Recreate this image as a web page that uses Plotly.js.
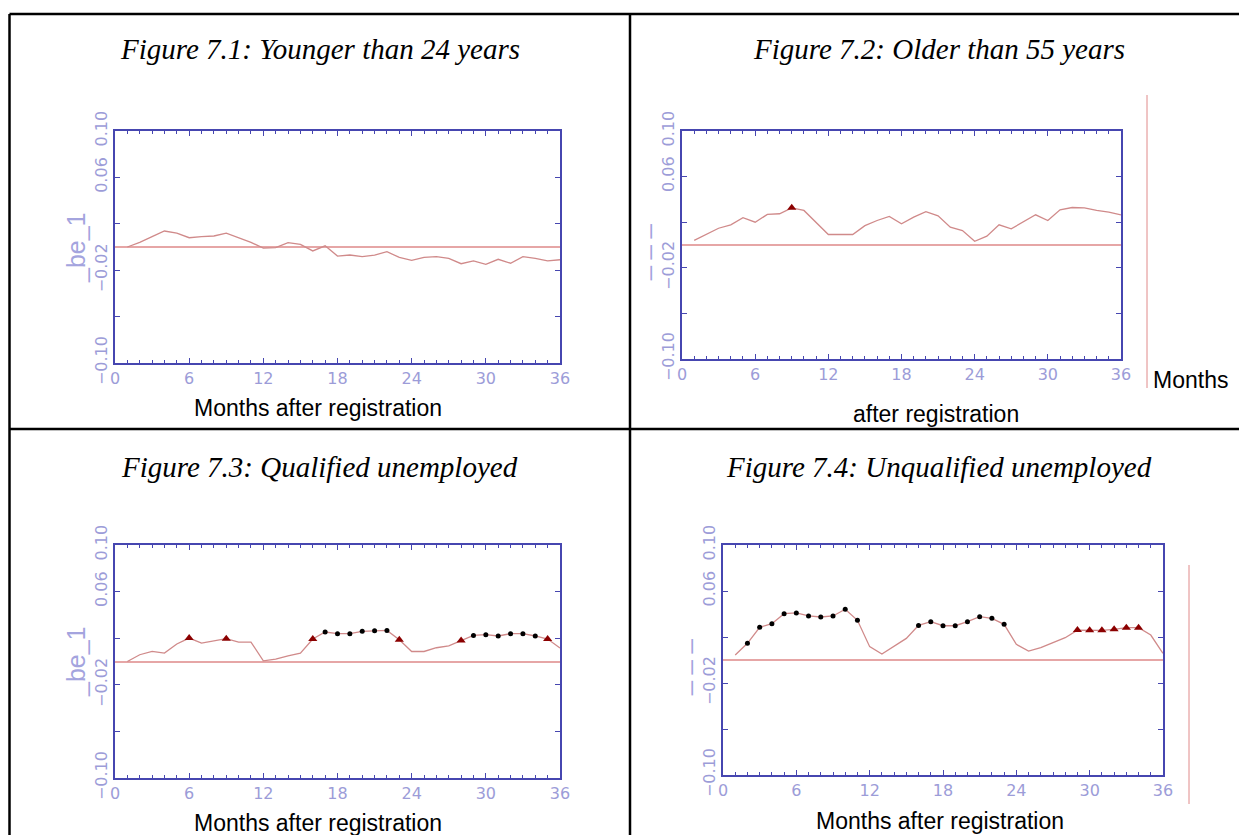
<!DOCTYPE html>
<html>
<head>
<meta charset="utf-8">
<script src="https://cdn.plot.ly/plotly-3.0.1.min.js"></script>
<style>
  html, body { margin: 0; padding: 0; background: #ffffff; }
  #chart { width: 1239px; height: 835px; }
</style>
</head>
<body>
<div id="chart"></div>
<script>
// ---------------- DATA ----------------
const months = [1,2,3,4,5,6,7,8,9,10,11,12,13,14,15,16,17,18,19,20,21,22,23,24,25,26,27,28,29,30,31,32,33,34,35,36];

const panelTitles = [
  "Figure 7.1: Younger than 24 years",
  "Figure 7.2: Older than 55 years",
  "Figure 7.3: Qualified unemployed",
  "Figure 7.4: Unqualified unemployed"
];

const xTickLabels = ["0","6","12","18","24","30","36"];
const yTickValues = [-0.10, -0.06, -0.02, 0.02, 0.06, 0.10];
const yTickLabels = ["\u22120.10", "", "\u22120.02", "", "0.06", "0.10"];

const youngerThan24 = [0.000,0.004,0.009,0.0138,0.012,0.008,0.009,0.0095,0.012,0.008,0.004,-0.001,
  -0.0005,0.0037,0.0023,-0.0034,0.001,-0.0078,-0.0069,-0.0083,-0.007,-0.004,-0.009,-0.0115,
  -0.009,-0.0083,-0.0098,-0.0144,-0.012,-0.015,-0.0106,-0.014,-0.0083,-0.0098,-0.012,-0.011];

const olderThan55 = [0.004,0.0092,0.0147,0.0177,0.0239,0.020,0.0268,0.0274,0.0326,0.0303,0.020,0.0092,
  0.0092,0.0092,0.017,0.0215,0.025,0.0186,0.0244,0.0292,0.0256,0.0156,0.0127,0.0033,
  0.0077,0.0177,0.0142,0.020,0.0265,0.0215,0.0309,0.0329,0.0326,0.0303,0.0288,0.0265];

const qualified = [0.000,0.0058,0.0086,0.0072,0.015,0.0201,0.0158,0.0178,0.0196,0.0167,0.0167,0.0006,
  0.002,0.0049,0.0072,0.0193,0.0253,0.0239,0.0239,0.0259,0.0265,0.0267,0.0187,0.0086,
  0.0086,0.0118,0.0135,0.0181,0.0224,0.023,0.0219,0.0239,0.0239,0.0219,0.0193,0.0115];

const unqualified = [0.0043,0.0145,0.0284,0.0316,0.0403,0.0409,0.0383,0.0374,0.0383,0.0441,0.0345,0.0116,
  0.0052,0.0122,0.0188,0.0301,0.0333,0.0298,0.0298,0.0333,0.0377,0.0362,0.031,0.0136,
  0.0078,0.0107,0.015,0.0194,0.026,0.0258,0.0258,0.0267,0.0281,0.0281,0.0217,0.0058];

// months flagged with markers
const olderTriangles = [9];
const qualifiedTriangles = [6,9,16,23,28,35];
const qualifiedDots = [17,18,19,20,21,22,29,30,31,32,33,34];
const unqualifiedDots = [2,3,4,5,6,7,8,9,10,11,16,17,18,19,20,21,22,23];
const unqualifiedTriangles = [29,30,31,32,33,34];

// ---------------- STYLE / LAYOUT ----------------
const W = 1239, H = 835;
const px = x => x / W;
const py = y => 1 - y / H;

const LINE = '#d08a8a';
const ZERO = '#e6a6a6';
const FRAME = '#4646b0';
const LAV = '#9c9cd8';

function lineTrace(vals, ax) {
  return {x: months, y: vals, xaxis: 'x' + ax, yaxis: 'y' + ax, type: 'scatter', mode: 'lines',
    line: {color: LINE, width: 1.3}, hoverinfo: 'skip'};
}
function markerTrace(vals, which, ax, kind) {
  const xs = which;
  const ys = which.map(m => vals[months.indexOf(m)]);
  return {x: xs, y: ys, xaxis: 'x' + ax, yaxis: 'y' + ax, type: 'scatter', mode: 'markers',
    marker: kind === 'tri'
      ? {symbol: 'triangle-up', size: 8, color: '#8b0000'}
      : {symbol: 'circle', size: 5, color: '#000000'},
    hoverinfo: 'skip'};
}

const data = [
  lineTrace(youngerThan24, ''),
  lineTrace(olderThan55, '2'),
  markerTrace(olderThan55, olderTriangles, '2', 'tri'),
  lineTrace(qualified, '3'),
  markerTrace(qualified, qualifiedDots, '3', 'dot'),
  markerTrace(qualified, qualifiedTriangles, '3', 'tri'),
  lineTrace(unqualified, '4'),
  markerTrace(unqualified, unqualifiedDots, '4', 'dot'),
  markerTrace(unqualified, unqualifiedTriangles, '4', 'tri')
];

function tickFont() {
  return {family: 'DejaVu Sans, Liberation Sans, Arial, sans-serif', size: 16, color: LAV};
}

function xAxis(d0, d1, anchor) {
  return {domain: [d0, d1], anchor: anchor, range: [0, 36], tickmode: 'array',
    tickvals: xTickLabels.map(Number), ticktext: xTickLabels,
    showline: true, linecolor: FRAME, linewidth: 2, mirror: 'ticks',
    ticks: 'inside', ticklen: 5, tickwidth: 1, tickcolor: FRAME,
    minor: {dtick: 1, tick0: 0, ticks: 'inside', ticklen: 3, tickcolor: FRAME, showgrid: false},
    showgrid: false, zeroline: false, fixedrange: true, tickfont: tickFont()};
}
function yAxis(d0, d1, anchor) {
  return {domain: [d0, d1], anchor: anchor, range: [-0.10, 0.10], tickmode: 'array',
    tickvals: yTickValues, ticktext: yTickLabels, tickangle: -90,
    showline: true, linecolor: FRAME, linewidth: 2, mirror: 'ticks',
    ticks: 'inside', ticklen: 5, tickwidth: 1, tickcolor: FRAME,
    showgrid: false, zeroline: true, zerolinecolor: ZERO, zerolinewidth: 2, fixedrange: true,
    tickfont: tickFont()};
}

const titleFont = {family: 'Liberation Serif, Times New Roman, serif', size: 29, color: '#000000'};
const labelFont = {family: 'Liberation Sans Narrow, Arial Narrow, Liberation Sans, sans-serif', size: 23, color: '#000000'};
const yTitleFont = {family: 'Liberation Sans, Arial, sans-serif', size: 25, color: '#a4a4de'};

function ann(text, x, y, font, extra) {
  return Object.assign({text: text, x: px(x), y: py(y), xref: 'paper', yref: 'paper',
    xanchor: 'center', yanchor: 'middle', showarrow: false, font: font}, extra || {});
}

const annotations = [
  ann('<i>' + panelTitles[0] + '</i>', 320, 49, titleFont),
  ann('<i>' + panelTitles[1] + '</i>', 939, 49, titleFont),
  ann('<i>' + panelTitles[2] + '</i>', 320, 467, titleFont),
  ann('<i>' + panelTitles[3] + '</i>', 939, 467, titleFont),
  ann('Months after registration', 318, 408, labelFont),
  ann('Months', 1190, 380, labelFont),
  ann('after registration', 936, 414, labelFont),
  ann('Months after registration', 318, 823, labelFont),
  ann('Months after registration', 940, 821, labelFont),
  ann('_be_1', 76, 248, yTitleFont, {textangle: -90}),
  ann('_be_1', 76, 662, yTitleFont, {textangle: -90}),
  ann('_ _ _', 638, 252, yTitleFont, {textangle: -90}),
  ann('_ _ _', 679, 667, yTitleFont, {textangle: -90})
];

const BK = {color: '#000000', width: 2.5};
const shapes = [
  {type: 'line', xref: 'paper', yref: 'paper', x0: px(9.5), x1: px(1239), y0: py(14), y1: py(14), line: BK},
  {type: 'line', xref: 'paper', yref: 'paper', x0: px(9.5), x1: px(9.5), y0: py(14), y1: py(835), line: BK},
  {type: 'line', xref: 'paper', yref: 'paper', x0: px(630), x1: px(630), y0: py(14), y1: py(835), line: BK},
  {type: 'line', xref: 'paper', yref: 'paper', x0: px(9.5), x1: px(1239), y0: py(429), y1: py(429), line: BK},
  {type: 'line', xref: 'paper', yref: 'paper', x0: px(1147), x1: px(1147), y0: py(95), y1: py(388), line: {color: '#e08a8a', width: 1}},
  {type: 'line', xref: 'paper', yref: 'paper', x0: px(1189), x1: px(1189), y0: py(565), y1: py(804), line: {color: '#e08a8a', width: 1}}
];

const layout = {
  width: W, height: H,
  margin: {l: 0, r: 0, t: 0, b: 0},
  paper_bgcolor: '#ffffff', plot_bgcolor: '#ffffff',
  showlegend: false,
  xaxis:  xAxis(px(115), px(560), 'y'),
  yaxis:  yAxis(py(363), py(131), 'x'),
  xaxis2: xAxis(px(682), px(1121), 'y2'),
  yaxis2: yAxis(py(359), py(131), 'x2'),
  xaxis3: xAxis(px(115), px(560), 'y3'),
  yaxis3: yAxis(py(778), py(545), 'x3'),
  xaxis4: xAxis(px(723), px(1163), 'y4'),
  yaxis4: yAxis(py(775), py(545), 'x4'),
  annotations: annotations,
  shapes: shapes
};

Plotly.newPlot('chart', data, layout, {staticPlot: true, displayModeBar: false});
</script>
</body>
</html>
